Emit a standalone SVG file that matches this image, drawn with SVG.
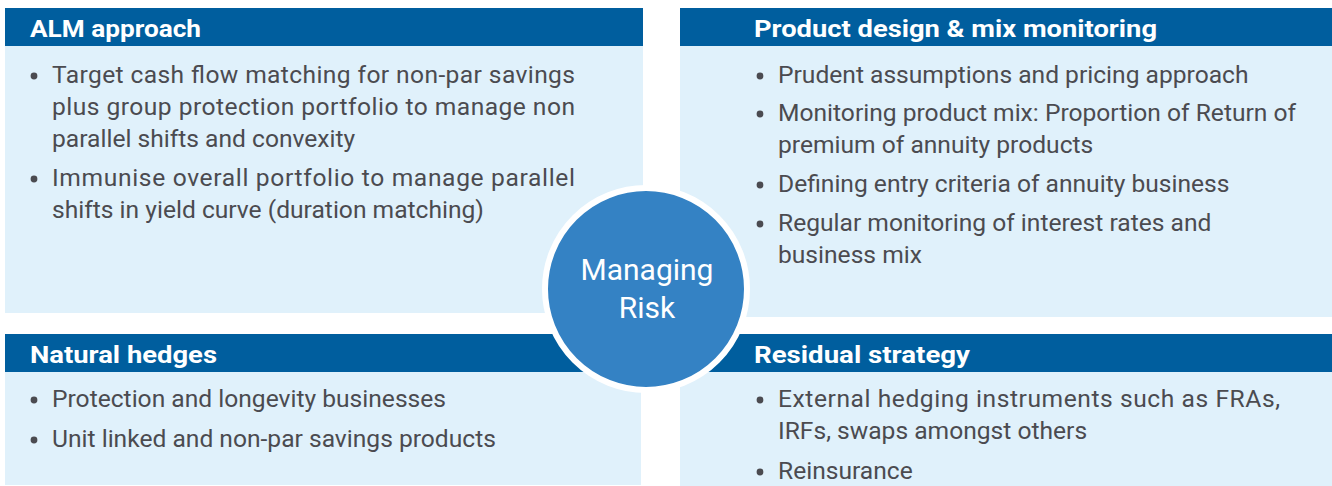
<svg xmlns="http://www.w3.org/2000/svg" width="1332" height="486" viewBox="0 0 1332 486">
<style>
.body{fill:#e0f1fb}
.head{fill:#005e9e}
.ht{font-family:Roboto,"Liberation Sans",sans-serif;font-weight:bold;font-size:24px;fill:#ffffff}
.bt{font-family:Roboto,"Liberation Sans",sans-serif;font-size:24.6px;fill:#4b4b50}
.dot{fill:#4b4b50}
.ct{font-family:Roboto,"Liberation Sans",sans-serif;font-size:30px;fill:#ffffff;text-anchor:middle}
</style>
<rect width="1332" height="486" fill="#ffffff"/>
<g id="alm-approach">
<rect class="body" x="5" y="8" width="638" height="305"/>
<rect class="head" x="5" y="8" width="638" height="38"/>
<text class="ht" x="30" y="37" textLength="171" lengthAdjust="spacingAndGlyphs">ALM approach</text>
<circle class="dot" cx="34" cy="76" r="3.4"/>
<text class="bt" x="52" y="83" textLength="523" lengthAdjust="spacing">Target cash flow matching for non-par savings</text>
<text class="bt" x="52" y="115" textLength="523" lengthAdjust="spacing">plus group protection portfolio to manage non</text>
<text class="bt" x="52" y="147">parallel shifts and convexity</text>
<circle class="dot" cx="34" cy="179" r="3.4"/>
<text class="bt" x="52" y="186" textLength="523" lengthAdjust="spacing">Immunise overall portfolio to manage parallel</text>
<text class="bt" x="52" y="218">shifts in yield curve (duration matching)</text>
</g>
<g id="product-design">
<rect class="body" x="680" y="8" width="652" height="309"/>
<rect class="head" x="680" y="8" width="652" height="38"/>
<text class="ht" x="754" y="37" textLength="403" lengthAdjust="spacingAndGlyphs">Product design &amp; mix monitoring</text>
<circle class="dot" cx="760" cy="76" r="3.4"/>
<text class="bt" x="778" y="83">Prudent assumptions and pricing approach</text>
<circle class="dot" cx="760" cy="114" r="3.4"/>
<text class="bt" x="778" y="121">Monitoring product mix: Proportion of Return of</text>
<text class="bt" x="778" y="153">premium of annuity products</text>
<circle class="dot" cx="760" cy="185" r="3.4"/>
<text class="bt" x="778" y="192">Defining entry criteria of annuity business</text>
<circle class="dot" cx="760" cy="224" r="3.4"/>
<text class="bt" x="778" y="231">Regular monitoring of interest rates and</text>
<text class="bt" x="778" y="263">business mix</text>
</g>
<g id="natural-hedges">
<rect class="body" x="5" y="334" width="636" height="151"/>
<rect class="head" x="5" y="334" width="636" height="38"/>
<text class="ht" x="30" y="363" textLength="187" lengthAdjust="spacingAndGlyphs">Natural hedges</text>
<circle class="dot" cx="34" cy="400" r="3.4"/>
<text class="bt" x="52" y="407">Protection and longevity businesses</text>
<circle class="dot" cx="34" cy="440" r="3.4"/>
<text class="bt" x="52" y="447">Unit linked and non-par savings products</text>
</g>
<g id="residual-strategy">
<rect class="body" x="680" y="334" width="652" height="152"/>
<rect class="head" x="680" y="334" width="652" height="38"/>
<text class="ht" x="754" y="363" textLength="216" lengthAdjust="spacingAndGlyphs">Residual strategy</text>
<circle class="dot" cx="760" cy="400" r="3.4"/>
<text class="bt" x="778" y="407" textLength="502" lengthAdjust="spacing">External hedging instruments such as FRAs,</text>
<text class="bt" x="778" y="439">IRFs, swaps amongst others</text>
<circle class="dot" cx="760" cy="472" r="3.4"/>
<text class="bt" x="778" y="479">Reinsurance</text>
</g>
<g id="managing-risk">
<circle cx="646" cy="289" r="101" fill="#3482c4" stroke="#ffffff" stroke-width="6"/>
<text class="ct" x="647" y="280">Managing</text>
<text class="ct" x="647" y="318">Risk</text>
</g>
</svg>
